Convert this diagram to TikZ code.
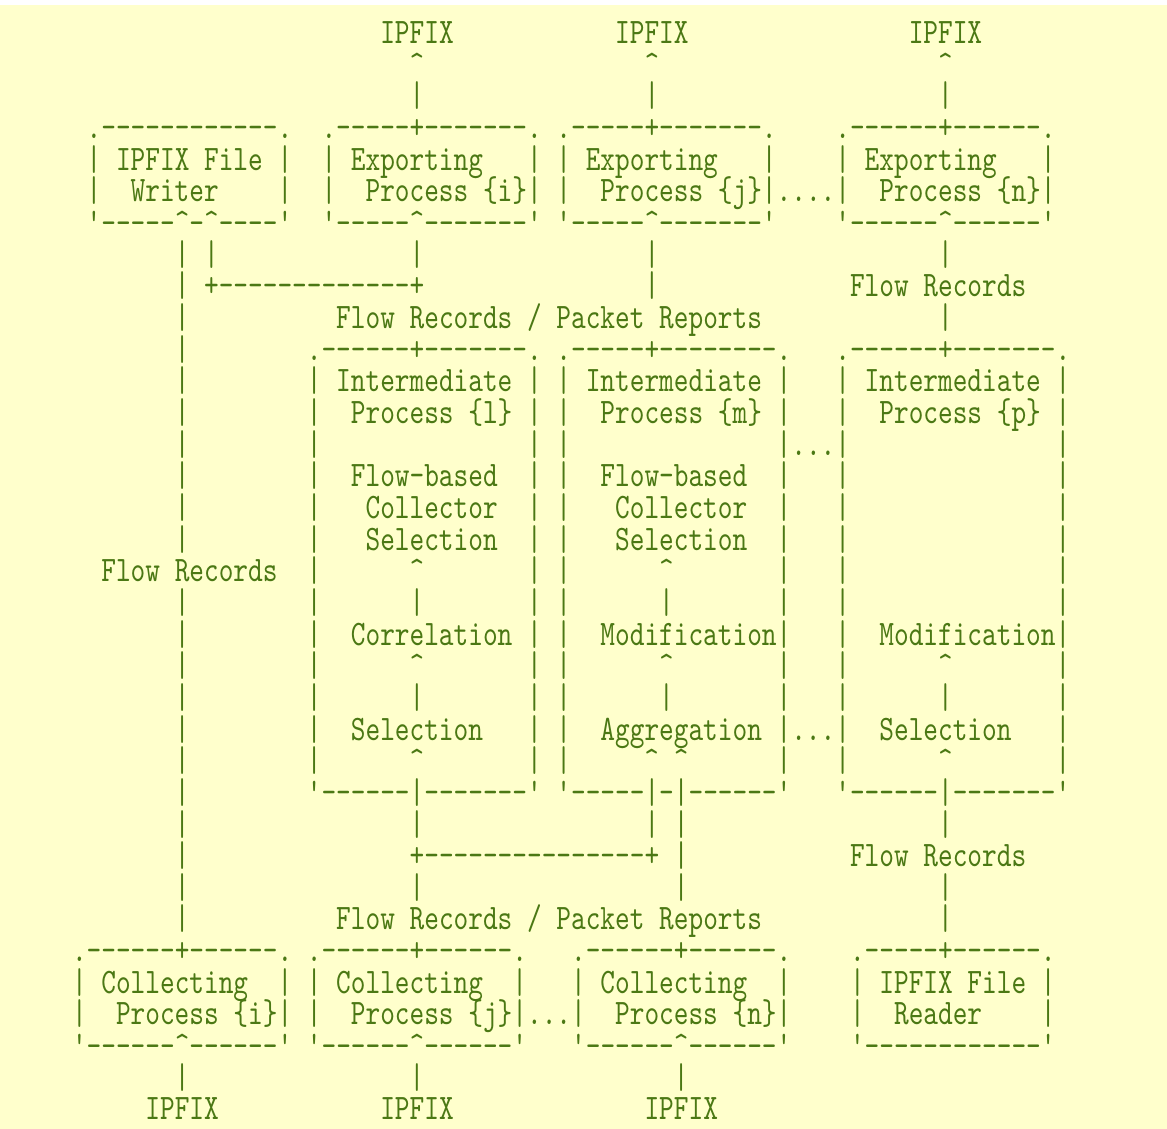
\documentclass[tikz,border=0pt]{standalone}
\usepackage{fontspec}
\newfontfamily\asciifont{lmmono10-regular.otf}[FakeStretch=0.78,Ligatures=TeXOff]
\definecolor{asciigreen}{RGB}{75,120,20}
\definecolor{paper}{RGB}{255,255,204}
\newlength\asciiw
\setlength\asciiw{14.68pt}
\newcommand\asciistyle{\asciifont\fontsize{35.85}{40}\selectfont}
\newcommand\gap[1]{\hspace*{#1\asciiw}}
\newcommand\crt{\textasciicircum}
\newcommand\edge{\raisebox{15pt}{\_}}
\newcommand\rep[2]{\foreach\repi in {1,...,#1}{#2}}
\tikzset{
  asciirow/.style={ % one line of the text drawing
    anchor=base west, inner sep=0pt, outer sep=0pt,
    text=asciigreen, font=\asciistyle
  }
}
\begin{document}
\begin{tikzpicture}[x=1pt,y=-1pt]
  \useasboundingbox (0,0) rectangle (1167,1129);
  \fill[white] (0,0) rectangle (1167,1129);
  \fill[paper] (0,5) rectangle (1167,1129);
  \asciistyle\fontdimen2\font=\asciiw\fontdimen3\font=0pt\fontdimen4\font=0pt
  \begin{scope}[shift={(72,43.5)},y=-31.66pt]
    % exporters
    \node[asciirow] (r0) at (0,0) {\gap{21}IPFIX\gap{11}IPFIX\gap{15}IPFIX};
    \node[asciirow] (r1) at (0,1) {\gap{23}\crt\gap{15}\crt\gap{19}\crt};
    \node[asciirow] (r2) at (0,2) {\gap{23}|\gap{15}|\gap{19}|};
    \node[asciirow] (r3) at (0,3) {\gap{1}.\rep{12}{-}.\gap{2}.\rep{5}{-}+\rep{7}{-}.~.\rep{5}{-}+\rep{7}{-}.\gap{4}.\rep{6}{-}+\rep{6}{-}.};
    \node[asciirow] (r4) at (0,4) {\gap{1}|~IPFIX~File~|\gap{2}|~Exporting\gap{3}|~|~Exporting\gap{3}|\gap{4}|~Exporting\gap{3}|};
    \node[asciirow] (r5) at (0,5) {\gap{1}|\gap{2}Writer\gap{4}|\gap{2}|\gap{2}Process~\{i\}|~|\gap{2}Process~\{j\}|....|\gap{2}Process~\{n\}|};
    \node[asciirow] (r6) at (0,6) {\gap{1}'\rep{5}{\edge}\crt\edge\crt\rep{4}{\edge}'\gap{2}'\rep{5}{\edge}\crt\rep{7}{\edge}'~'\rep{5}{\edge}\crt\rep{7}{\edge}'\gap{4}'\rep{6}{\edge}\crt\rep{6}{\edge}'};
    \node[asciirow] (r7) at (0,7) {\gap{7}|~|\gap{13}|\gap{15}|\gap{19}|};
    \node[asciirow] (r8) at (0,8) {\gap{7}|~+\rep{13}{-}+\gap{15}|\gap{13}Flow~Records};
    \node[asciirow] (r9) at (0,9) {\gap{7}|\gap{10}Flow~Records~/~Packet~Reports\gap{12}|};
    % intermediate processes
    \node[asciirow] (r10) at (0,10) {\gap{7}|\gap{8}.\rep{6}{-}+\rep{7}{-}.~.\rep{5}{-}+\rep{8}{-}.\gap{3}.\rep{6}{-}+\rep{7}{-}.};
    \node[asciirow] (r11) at (0,11) {\gap{7}|\gap{8}|~Intermediate~|~|~Intermediate~|\gap{3}|~Intermediate~|};
    \node[asciirow] (r12) at (0,12) {\gap{7}|\gap{8}|\gap{2}Process~\{l\}~|~|\gap{2}Process~\{m\}~|\gap{3}|\gap{2}Process~\{p\}~|};
    \node[asciirow] (r13) at (0,13) {\gap{7}|\gap{8}|\gap{14}|~|\gap{14}|...|\gap{14}|};
    \node[asciirow] (r14) at (0,14) {\gap{7}|\gap{8}|\gap{2}Flow-based\gap{2}|~|\gap{2}Flow-based\gap{2}|\gap{3}|\gap{14}|};
    \node[asciirow] (r15) at (0,15) {\gap{7}|\gap{8}|\gap{3}Collector\gap{2}|~|\gap{3}Collector\gap{2}|\gap{3}|\gap{14}|};
    \node[asciirow] (r16) at (0,16) {\gap{7}|\gap{8}|\gap{3}Selection\gap{2}|~|\gap{3}Selection\gap{2}|\gap{3}|\gap{14}|};
    \node[asciirow] (r17) at (0,17) {\gap{2}Flow~Records\gap{2}|\gap{6}\crt\gap{7}|~|\gap{6}\crt\gap{7}|\gap{3}|\gap{14}|};
    \node[asciirow] (r18) at (0,18) {\gap{7}|\gap{8}|\gap{6}|\gap{7}|~|\gap{6}|\gap{7}|\gap{3}|\gap{14}|};
    \node[asciirow] (r19) at (0,19) {\gap{7}|\gap{8}|\gap{2}Correlation~|~|\gap{2}Modification|\gap{3}|\gap{2}Modification|};
    \node[asciirow] (r20) at (0,20) {\gap{7}|\gap{8}|\gap{6}\crt\gap{7}|~|\gap{6}\crt\gap{7}|\gap{3}|\gap{6}\crt\gap{7}|};
    \node[asciirow] (r21) at (0,21) {\gap{7}|\gap{8}|\gap{6}|\gap{7}|~|\gap{6}|\gap{7}|\gap{3}|\gap{6}|\gap{7}|};
    \node[asciirow] (r22) at (0,22) {\gap{7}|\gap{8}|\gap{2}Selection\gap{3}|~|\gap{2}Aggregation~|...|\gap{2}Selection\gap{3}|};
    \node[asciirow] (r23) at (0,23) {\gap{7}|\gap{8}|\gap{6}\crt\gap{7}|~|\gap{5}\crt~\crt\gap{6}|\gap{3}|\gap{6}\crt\gap{7}|};
    \node[asciirow] (r24) at (0,24) {\gap{7}|\gap{8}'\rep{6}{-}|\rep{7}{-}'~'\rep{5}{-}|-|\rep{6}{-}'\gap{3}'\rep{6}{-}|\rep{7}{-}'};
    % collectors
    \node[asciirow] (r25) at (0,25) {\gap{7}|\gap{15}|\gap{15}|~|\gap{17}|};
    \node[asciirow] (r26) at (0,26) {\gap{7}|\gap{15}+\rep{15}{-}+~|\gap{11}Flow~Records};
    \node[asciirow] (r27) at (0,27) {\gap{7}|\gap{15}|\gap{17}|\gap{17}|};
    \node[asciirow] (r28) at (0,28) {\gap{7}|\gap{10}Flow~Records~/~Packet~Reports\gap{12}|};
    \node[asciirow] (r29) at (0,29) {.\rep{6}{-}+\rep{6}{-}.~.\rep{6}{-}+\rep{6}{-}.\gap{3}.\rep{6}{-}+\rep{6}{-}.\gap{4}.\rep{5}{-}+\rep{6}{-}.};
    \node[asciirow] (r30) at (0,30) {|~Collecting\gap{2}|~|~Collecting\gap{2}|\gap{3}|~Collecting\gap{2}|\gap{4}|~IPFIX~File~|};
    \node[asciirow] (r31) at (0,31) {|\gap{2}Process~\{i\}|~|\gap{2}Process~\{j\}|...|\gap{2}Process~\{n\}|\gap{4}|\gap{2}Reader\gap{4}|};
    \node[asciirow] (r32) at (0,32) {'\rep{6}{\edge}\crt\rep{6}{\edge}'~'\rep{6}{\edge}\crt\rep{6}{\edge}'\gap{3}'\rep{6}{\edge}\crt\rep{6}{\edge}'\gap{4}'\rep{12}{\edge}'};
    \node[asciirow] (r33) at (0,33) {\gap{7}|\gap{15}|\gap{17}|};
    \node[asciirow] (r34) at (0,34) {\gap{5}IPFIX\gap{11}IPFIX\gap{13}IPFIX};
  \end{scope}
\end{tikzpicture}
\end{document}
